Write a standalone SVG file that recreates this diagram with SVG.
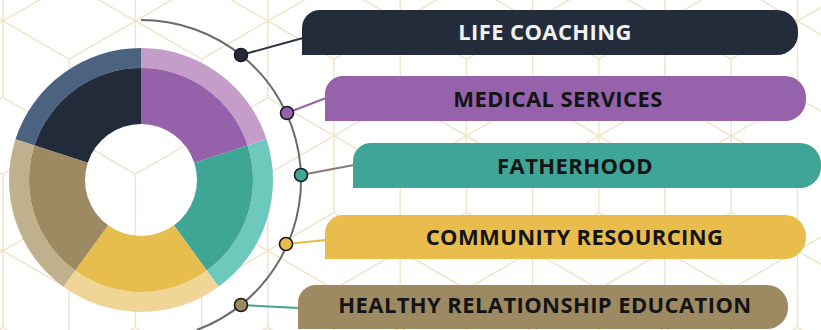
<svg xmlns="http://www.w3.org/2000/svg" xmlns:xlink="http://www.w3.org/1999/xlink" width="821" height="330" viewBox="0 0 821 330">
<style>
.lat{fill:none;stroke:#efe3c8;stroke-width:1.4}
.lbl{font-family:"Open Sans","Liberation Sans",sans-serif;font-weight:700;font-size:22px;letter-spacing:0.4px;text-anchor:middle;fill:#141414}
.dot{stroke:#1b1b1b;stroke-width:1.6}
.con{fill:none;stroke-width:2}
</style>
<defs>
<path id="star" d="M0,-76.44V76.44M-66.2,-38.22L66.2,38.22M-66.2,38.22L66.2,-38.22"/>
</defs>
<rect width="821" height="330" fill="#ffffff"/>
<g id="background" class="lat">
<use xlink:href="#star" x="-63.2" y="135.9"/><use xlink:href="#star" x="-63.2" y="365.7"/>
<use xlink:href="#star" x="3" y="21"/><use xlink:href="#star" x="3" y="250.8"/>
<use xlink:href="#star" x="69.2" y="135.9"/><use xlink:href="#star" x="69.2" y="365.7"/>
<use xlink:href="#star" x="135.4" y="21"/><use xlink:href="#star" x="135.4" y="250.8"/>
<use xlink:href="#star" x="201.6" y="135.9"/><use xlink:href="#star" x="201.6" y="365.7"/>
<use xlink:href="#star" x="267.8" y="21"/><use xlink:href="#star" x="267.8" y="250.8"/>
<use xlink:href="#star" x="334" y="135.9"/><use xlink:href="#star" x="334" y="365.7"/>
<use xlink:href="#star" x="400.2" y="21"/><use xlink:href="#star" x="400.2" y="250.8"/>
<use xlink:href="#star" x="466.4" y="135.9"/><use xlink:href="#star" x="466.4" y="365.7"/>
<use xlink:href="#star" x="532.6" y="21"/><use xlink:href="#star" x="532.6" y="250.8"/>
<use xlink:href="#star" x="598.8" y="135.9"/><use xlink:href="#star" x="598.8" y="365.7"/>
<use xlink:href="#star" x="665" y="21"/><use xlink:href="#star" x="665" y="250.8"/>
<use xlink:href="#star" x="731.2" y="135.9"/><use xlink:href="#star" x="731.2" y="365.7"/>
<use xlink:href="#star" x="797.4" y="21"/><use xlink:href="#star" x="797.4" y="250.8"/>
<use xlink:href="#star" x="863.6" y="135.9"/><use xlink:href="#star" x="863.6" y="365.7"/>
</g>
<g id="donut">
<g id="seg-life-coaching">
<path fill="#4b6280" d="M15.46,139.21A132,132 0 0 1 141,48L141,68A112,112 0 0 0 34.48,145.39Z"/>
<path fill="#222b3a" d="M34.48,145.39A112,112 0 0 1 141,68L141,124A56,56 0 0 0 87.74,162.69Z"/>
</g>
<g id="seg-medical">
<path fill="#c49dc8" d="M141,48A132,132 0 0 1 266.54,139.21L247.52,145.39A112,112 0 0 0 141,68Z"/>
<path fill="#9461aa" d="M141,68A112,112 0 0 1 247.52,145.39L194.26,162.69A56,56 0 0 0 141,124Z"/>
</g>
<g id="seg-fatherhood">
<path fill="#6ec9bd" d="M266.54,139.21A132,132 0 0 1 218.59,286.79L206.83,270.61A112,112 0 0 0 247.52,145.39Z"/>
<path fill="#3fa595" d="M247.52,145.39A112,112 0 0 1 206.83,270.61L173.92,225.31A56,56 0 0 0 194.26,162.69Z"/>
</g>
<g id="seg-community">
<path fill="#f0d597" d="M218.59,286.79A132,132 0 0 1 63.41,286.79L75.17,270.61A112,112 0 0 0 206.83,270.61Z"/>
<path fill="#e7bd4d" d="M206.83,270.61A112,112 0 0 1 75.17,270.61L108.08,225.31A56,56 0 0 0 173.92,225.31Z"/>
</g>
<g id="seg-healthy">
<path fill="#bfb18e" d="M63.41,286.79A132,132 0 0 1 15.46,139.21L34.48,145.39A112,112 0 0 0 75.17,270.61Z"/>
<path fill="#9e8a62" d="M75.17,270.61A112,112 0 0 1 34.48,145.39L87.74,162.69A56,56 0 0 0 108.08,225.31Z"/>
</g>
</g>
<g id="connectors">
<path class="con" stroke="#6a6a6a" stroke-width="1.5" d="M141,20A160,160 0 0 1 196.7,330"/>
<line class="con" stroke="#2d3646" x1="241" y1="55" x2="303" y2="38"/>
<line class="con" stroke="#9461aa" x1="287" y1="113" x2="326" y2="98"/>
<line class="con" stroke="#8c7b73" x1="301" y1="175" x2="354" y2="165"/>
<line class="con" stroke="#e7bd4d" x1="286" y1="244" x2="326" y2="240"/>
<line class="con" stroke="#3fa595" x1="241" y1="305" x2="299" y2="308"/>
</g>
<g id="node-life-coaching">
<path fill="#232c3b" d="M302,55V28A18,18 0 0 1 320,10H777A21,21 0 0 1 798,31V34A21,21 0 0 1 777,55Z"/>
<circle class="dot" cx="241" cy="55" r="6.5" fill="#222b3a"/>
<text class="lbl" x="545" y="40" style="fill:#f2f2f2">LIFE COACHING</text>
</g>
<g id="node-medical-services">
<path fill="#9562ab" d="M325,121V94A18,18 0 0 1 343,76H785A21,21 0 0 1 806,97V100A21,21 0 0 1 785,121Z"/>
<circle class="dot" cx="287" cy="113" r="6.5" fill="#9461aa"/>
<text class="lbl" x="558" y="107">MEDICAL SERVICES</text>
</g>
<g id="node-fatherhood">
<path fill="#3fa596" d="M353,188V161A18,18 0 0 1 371,143H800A21,21 0 0 1 821,164V167A21,21 0 0 1 800,188Z"/>
<circle class="dot" cx="301" cy="175" r="6.5" fill="#3fa595"/>
<text class="lbl" x="575" y="174">FATHERHOOD</text>
</g>
<g id="node-community-resourcing">
<path fill="#e8bd4c" d="M325,259V233A18,18 0 0 1 343,215H785A21,21 0 0 1 806,236V238A21,21 0 0 1 785,259Z"/>
<circle class="dot" cx="286" cy="244" r="6.5" fill="#e7bd4d"/>
<text class="lbl" x="574.5" y="245">COMMUNITY RESOURCING</text>
</g>
<g id="node-healthy-relationship">
<path fill="#9d8a62" d="M298,329V303A18,18 0 0 1 316,285H767A21,21 0 0 1 788,306V308A21,21 0 0 1 767,329Z"/>
<circle class="dot" cx="241" cy="305" r="6.5" fill="#9e8a62"/>
<text class="lbl" x="545" y="313">HEALTHY RELATIONSHIP EDUCATION</text>
</g>
</svg>
